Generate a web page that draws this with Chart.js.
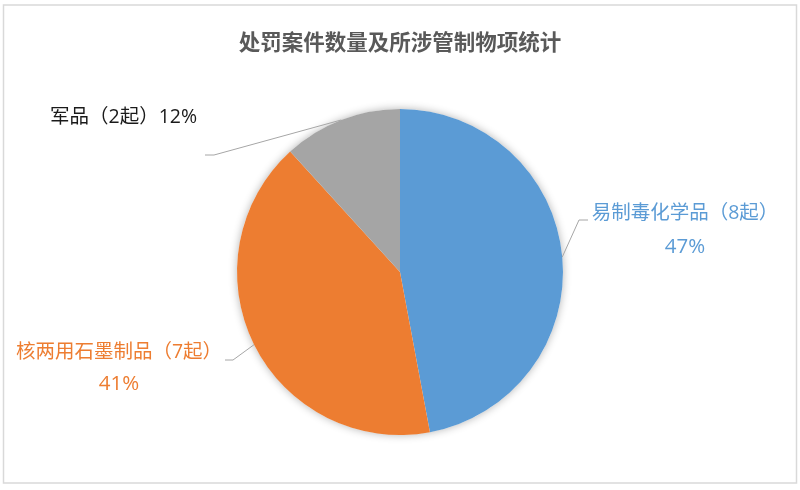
<!DOCTYPE html>
<html lang="zh">
<head>
<meta charset="UTF-8">
<title>处罚案件数量及所涉管制物项统计</title>
<script src="https://cdn.jsdelivr.net/npm/chart.js"></script>
<style>
    html, body { margin: 0; padding: 0; background: #fff; }
    #wrap { width: 800px; height: 490px; position: relative; }
</style>
</head>
<body>
<div id="wrap"><canvas id="pieChart"></canvas></div>
<script>
const categories = ["易制毒化学品", "核两用石墨制品", "军品"];
const caseCounts = [8, 7, 2];
const sliceColors = ["#5B9BD5", "#ED7D31", "#A5A5A5"];
const labelColors = ["#5B9BD5", "#ED7D31", "#1a1a1a"];

// where each label sits and where its leader line bends
const labelSpots = [
    { x: 685, y: 213, line2y: 247, elbow: [579, 220], end: [588, 220], twoLines: true },
    { x: 119, y: 352, line2y: 384, elbow: [233, 360], end: [225, 360], twoLines: true },
    { x: 50, y: 117, elbow: [214, 155], end: [205, 155], twoLines: false }
];

const titleFont = '"Noto Sans CJK SC", sans-serif';
const labelFont = '"Open Sans", "Noto Sans CJK SC", sans-serif';

const frameAndShadow = {
    id: "frameAndShadow",
    beforeDraw(chart) {
        const ctx = chart.ctx;
        ctx.save();
        ctx.strokeStyle = "#d9d9d9";
        ctx.lineWidth = 1.5;
        ctx.strokeRect(3.5, 5, 793, 478);
        ctx.restore();
    },
    beforeDatasetsDraw(chart) {
        const arc = chart.getDatasetMeta(0).data[0];
        const ctx = chart.ctx;
        ctx.save();
        ctx.shadowColor = "rgba(0,0,0,0.3)";
        ctx.shadowBlur = 9;
        ctx.fillStyle = "#fff";
        ctx.beginPath();
        ctx.arc(arc.x, arc.y, arc.outerRadius, 0, Math.PI * 2);
        ctx.fill();
        ctx.restore();
    }
};

const sliceLabels = {
    id: "sliceLabels",
    afterDatasetsDraw(chart) {
        const ctx = chart.ctx;
        const total = caseCounts.reduce((a, b) => a + b, 0);
        const meta = chart.getDatasetMeta(0);
        meta.data.forEach((arc, i) => {
            const spot = labelSpots[i];
            const mid = (arc.startAngle + arc.endAngle) / 2;
            const px = arc.x + Math.cos(mid) * arc.outerRadius;
            const py = arc.y + Math.sin(mid) * arc.outerRadius;
            ctx.save();
            ctx.strokeStyle = "#a6a6a6";
            ctx.lineWidth = 1;
            ctx.beginPath();
            ctx.moveTo(px, py);
            ctx.lineTo(spot.elbow[0], spot.elbow[1]);
            ctx.lineTo(spot.end[0], spot.end[1]);
            ctx.stroke();

            const pct = Math.round(caseCounts[i] / total * 100) + "%";
            const name = categories[i] + "（" + caseCounts[i] + "起）";
            ctx.fillStyle = labelColors[i];
            ctx.font = "19.5px " + labelFont;
            ctx.textBaseline = "middle";
            if (spot.twoLines) {
                ctx.textAlign = "center";
                ctx.fillText(name, spot.x, spot.y);
                ctx.font = "20.5px " + labelFont;
                ctx.fillText(pct, spot.x, spot.line2y);
            } else {
                ctx.textAlign = "left";
                ctx.fillText(name + pct, spot.x, spot.y);
            }
            ctx.restore();
        });
    }
};

new Chart(document.getElementById("pieChart"), {
    type: "pie",
    data: {
        labels: categories,
        datasets: [{
            data: caseCounts,
            backgroundColor: sliceColors,
            borderWidth: 0
        }]
    },
    options: {
        responsive: true,
        maintainAspectRatio: false,
        animation: false,
        layout: { padding: { top: 0, bottom: 55, left: 0, right: 0 } },
        plugins: {
            legend: { display: false },
            tooltip: { enabled: false },
            title: {
                display: true,
                text: "处罚案件数量及所涉管制物项统计",
                color: "#595959",
                font: { family: titleFont, size: 21.5, weight: "bold", lineHeight: 1.2 },
                padding: { top: 29, bottom: 54.2 }
            }
        }
    },
    plugins: [frameAndShadow, sliceLabels]
});
</script>
</body>
</html>
